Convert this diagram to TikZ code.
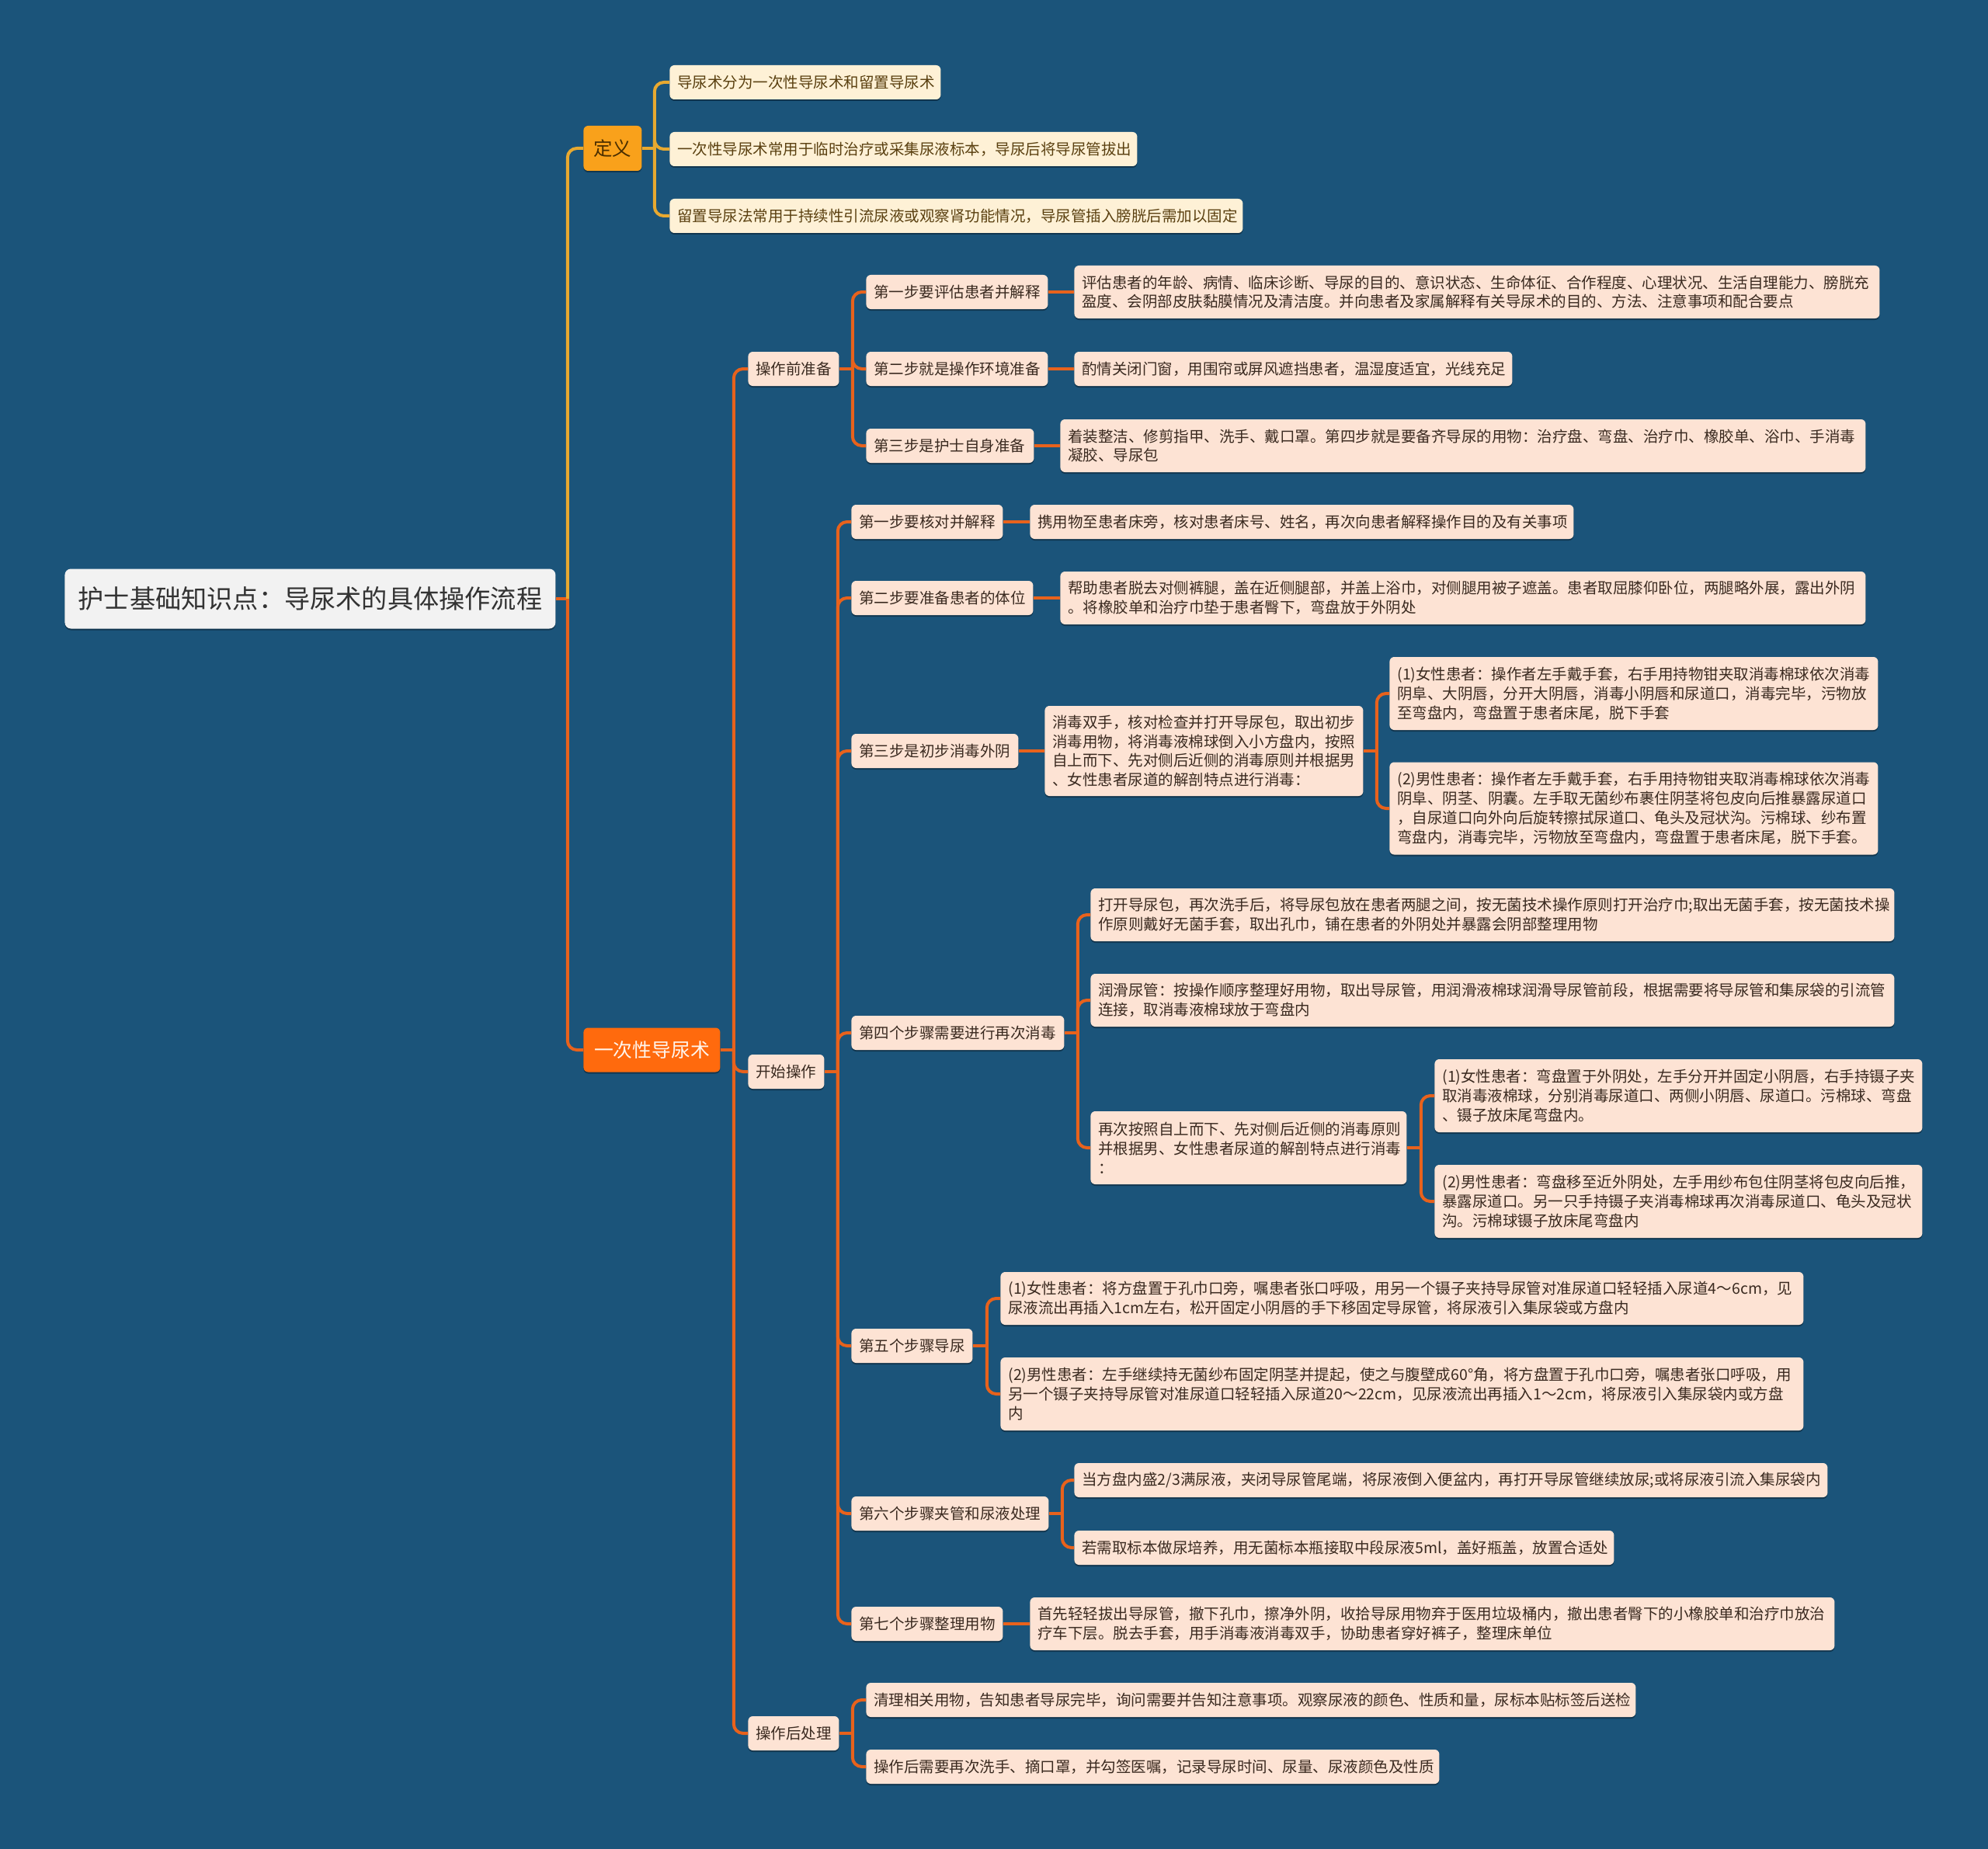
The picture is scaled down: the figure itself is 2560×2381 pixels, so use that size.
\documentclass[tikz,border=0pt]{standalone}
\usepackage{fontspec}
\setmainfont{Noto Sans CJK SC}
\usetikzlibrary{calc,shadows}
\definecolor{bg}{HTML}{1B547A}
\definecolor{peach}{HTML}{FDE3D4}
\definecolor{peachtext}{HTML}{3A2A20}
\definecolor{cream}{HTML}{FEF1D6}
\definecolor{creamtext}{HTML}{5A4010}
\definecolor{deffill}{HTML}{F9A11B}
\definecolor{deftext}{HTML}{4A2E00}
\definecolor{oncefill}{HTML}{FF6A0D}
\definecolor{oncetext}{HTML}{FFF5EC}
\definecolor{rootfill}{HTML}{F2F2F2}
\definecolor{roottext}{HTML}{333333}
\definecolor{gline}{HTML}{E8A930}
\definecolor{oline}{HTML}{E8621C}
\begin{document}
\begin{tikzpicture}[x=0.5pt,y=-0.5pt,
  bx/.style={rounded corners=3pt, inner xsep=5pt, inner ysep=0pt, anchor=west, align=left,
    font=\fontsize{9.75pt}{12.4pt}\selectfont,
    drop shadow={shadow xshift=0pt, shadow yshift=-1pt, opacity=0.35, fill=black}},
  pk/.style={bx, fill=peach, text=peachtext},
  cr/.style={bx, fill=cream, text=creamtext},
  ol/.style={draw=oline, line width=2pt, rounded corners=6pt},
  gl/.style={draw=gline, line width=2pt, rounded corners=6pt},
]
\fill[bg] (0,0) rectangle (2560,2381);
\useasboundingbox (0,0) rectangle (2560,2381);

% root and main branches
\node[bx, fill=rootfill, text=roottext, align=center, rounded corners=4pt, inner xsep=0pt,
  minimum width=316pt, minimum height=38.5pt, font=\fontsize{16.6pt}{20pt}\selectfont]
  (root) at (83,771) {护士基础知识点：导尿术的具体操作流程};
\node[bx, fill=deffill, text=deftext, align=center, inner xsep=0pt,
  minimum width=37.5pt, minimum height=29pt, font=\fontsize{12.25pt}{15pt}\selectfont]
  (def) at (751,191) {定义};
\node[bx, fill=oncefill, text=oncetext, align=center, inner xsep=0pt,
  minimum width=88pt, minimum height=28.5pt, font=\fontsize{12.4pt}{15pt}\selectfont]
  (once) at (751,1352) {一次性导尿术};

% definition children
\node[cr, text width=164.5pt, minimum height=22pt] (d1) at (862,106) {导尿术分为一次性导尿术和留置导尿术};
\node[cr, text width=291pt, minimum height=22pt] (d2) at (862,192) {一次性导尿术常用于临时治疗或采集尿液标本，导尿后将导尿管拔出};
\node[cr, text width=359pt, minimum height=22pt] (d3) at (862,278) {留置导尿法常用于持续性引流尿液或观察肾功能情况，导尿管插入膀胱后需加以固定};

% level 2
\node[pk, text width=48.5pt, minimum height=22pt] (prep) at (963,475) {操作前准备};
\node[pk, text width=39pt, minimum height=22pt] (start) at (963,1380) {开始操作};
\node[pk, text width=48.5pt, minimum height=22pt] (post) at (963,2232) {操作后处理};

% prep children
\node[pk, text width=107pt, minimum height=22pt] (p1) at (1115,376) {第一步要评估患者并解释};
\node[pk, text width=508.5pt, minimum height=34pt] (p1c) at (1383,376) {评估患者的年龄、病情、临床诊断、导尿的目的、意识状态、生命体征、合作程度、心理状况、生活自理能力、膀胱充\\盈度、会阴部皮肤黏膜情况及清洁度。并向患者及家属解释有关导尿术的目的、方法、注意事项和配合要点};
\node[pk, text width=107pt, minimum height=22pt] (p2) at (1115,475) {第二步就是操作环境准备};
\node[pk, text width=272pt, minimum height=22pt] (p2c) at (1383,475) {酌情关闭门窗，用围帘或屏风遮挡患者，温湿度适宜，光线充足};
\node[pk, text width=98pt, minimum height=22pt] (p3) at (1115,574) {第三步是护士自身准备};
\node[pk, text width=508.5pt, minimum height=34pt] (p3c) at (1365,574) {着装整洁、修剪指甲、洗手、戴口罩。第四步就是要备齐导尿的用物：治疗盘、弯盘、治疗巾、橡胶单、浴巾、手消毒\\凝胶、导尿包};

% start children
\node[pk, text width=87.5pt, minimum height=22pt] (s1) at (1096,672) {第一步要核对并解释};
\node[pk, text width=340pt, minimum height=22pt] (s1c) at (1326,672) {携用物至患者床旁，核对患者床号、姓名，再次向患者解释操作目的及有关事项};
\node[pk, text width=107pt, minimum height=22pt] (s2) at (1096,770) {第二步要准备患者的体位};
\node[pk, text width=508.5pt, minimum height=34pt] (s2c) at (1365,770) {帮助患者脱去对侧裤腿，盖在近侧腿部，并盖上浴巾，对侧腿用被子遮盖。患者取屈膝仰卧位，两腿略外展，露出外阴\\。将橡胶单和治疗巾垫于患者臀下，弯盘放于外阴处};
\node[pk, text width=97.5pt, minimum height=22pt] (s3) at (1096,967) {第三步是初步消毒外阴};
\node[pk, text width=195pt, minimum height=58pt] (s3m) at (1345,967) {消毒双手，核对检查并打开导尿包，取出初步\\消毒用物，将消毒液棉球倒入小方盘内，按照\\自上而下、先对侧后近侧的消毒原则并根据男\\、女性患者尿道的解剖特点进行消毒：};
\node[pk, text width=304.5pt, minimum height=47pt] (s3a) at (1789,893) {(1)女性患者：操作者左手戴手套，右手用持物钳夹取消毒棉球依次消毒\\阴阜、大阴唇，分开大阴唇，消毒小阴唇和尿道口，消毒完毕，污物放\\至弯盘内，弯盘置于患者床尾，脱下手套};
\node[pk, text width=304.5pt, minimum height=59.5pt] (s3b) at (1789,1041) {(2)男性患者：操作者左手戴手套，右手用持物钳夹取消毒棉球依次消毒\\阴阜、阴茎、阴囊。左手取无菌纱布裹住阴茎将包皮向后推暴露尿道口\\，自尿道口向外向后旋转擦拭尿道口、龟头及冠状沟。污棉球、纱布置\\弯盘内，消毒完毕，污物放至弯盘内，弯盘置于患者床尾，脱下手套。};
\node[pk, text width=127pt, minimum height=22pt] (s4) at (1096,1330) {第四个步骤需要进行再次消毒};
\node[pk, text width=507.5pt, minimum height=34pt] (s4a) at (1404,1178) {打开导尿包，再次洗手后，将导尿包放在患者两腿之间，按无菌技术操作原则打开治疗巾;取出无菌手套，按无菌技术操\\作原则戴好无菌手套，取出孔巾，铺在患者的外阴处并暴露会阴部整理用物};
\node[pk, text width=507.5pt, minimum height=34pt] (s4b) at (1404,1288) {润滑尿管：按操作顺序整理好用物，取出导尿管，用润滑液棉球润滑导尿管前段，根据需要将导尿管和集尿袋的引流管\\连接，取消毒液棉球放于弯盘内};
\node[pk, text width=193.5pt, minimum height=47pt] (s4c) at (1404,1478) {再次按照自上而下、先对侧后近侧的消毒原则\\并根据男、女性患者尿道的解剖特点进行消毒\\：};
\node[pk, text width=304pt, minimum height=47pt] (s4c1) at (1847,1411) {(1)女性患者：弯盘置于外阴处，左手分开并固定小阴唇，右手持镊子夹\\取消毒液棉球，分别消毒尿道口、两侧小阴唇、尿道口。污棉球、弯盘\\、镊子放床尾弯盘内。};
\node[pk, text width=304pt, minimum height=47pt] (s4c2) at (1847,1547) {(2)男性患者：弯盘移至近外阴处，左手用纱布包住阴茎将包皮向后推，\\暴露尿道口。另一只手持镊子夹消毒棉球再次消毒尿道口、龟头及冠状\\沟。污棉球镊子放床尾弯盘内};
\node[pk, text width=68pt, minimum height=22pt] (s5) at (1096,1733) {第五个步骤导尿};
\node[pk, text width=507pt, minimum height=34pt] (s5a) at (1288,1672) {(1)女性患者：将方盘置于孔巾口旁，嘱患者张口呼吸，用另一个镊子夹持导尿管对准尿道口轻轻插入尿道4～6cm，见\\尿液流出再插入1cm左右，松开固定小阴唇的手下移固定导尿管，将尿液引入集尿袋或方盘内};
\node[pk, text width=507pt, minimum height=47pt] (s5b) at (1288,1795) {(2)男性患者：左手继续持无菌纱布固定阴茎并提起，使之与腹壁成60°角，将方盘置于孔巾口旁，嘱患者张口呼吸，用\\另一个镊子夹持导尿管对准尿道口轻轻插入尿道20～22cm，见尿液流出再插入1～2cm，将尿液引入集尿袋内或方盘\\内};
\node[pk, text width=117pt, minimum height=22pt] (s6) at (1096,1949) {第六个步骤夹管和尿液处理};
\node[pk, text width=475pt, minimum height=22pt] (s6a) at (1383,1906) {当方盘内盛2/3满尿液，夹闭导尿管尾端，将尿液倒入便盆内，再打开导尿管继续放尿;或将尿液引流入集尿袋内};
\node[pk, text width=337.5pt, minimum height=22pt] (s6b) at (1383,1993) {若需取标本做尿培养，用无菌标本瓶接取中段尿液5ml，盖好瓶盖，放置合适处};
\node[pk, text width=87.5pt, minimum height=22pt] (s7) at (1096,2091) {第七个步骤整理用物};
\node[pk, text width=508pt, minimum height=34pt] (s7c) at (1326,2091) {首先轻轻拔出导尿管，撤下孔巾，擦净外阴，收拾导尿用物弃于医用垃圾桶内，撤出患者臀下的小橡胶单和治疗巾放治\\疗车下层。脱去手套，用手消毒液消毒双手，协助患者穿好裤子，整理床单位};

% post children
\node[pk, text width=485.5pt, minimum height=22pt] (q1) at (1115,2189) {清理相关用物，告知患者导尿完毕，询问需要并告知注意事项。观察尿液的颜色、性质和量，尿标本贴标签后送检};
\node[pk, text width=359pt, minimum height=22pt] (q2) at (1115,2275) {操作后需要再次洗手、摘口罩，并勾签医嘱，记录导尿时间、尿量、尿液颜色及性质};

% connectors
\draw[ol] (root.east) -- ++(15,0) coordinate (rsp);
\draw[gl] (rsp) |- (def.west);
\draw[ol] (rsp) |- (once.west);

\draw[gl] (def.east) -- ++(16,0) coordinate (dsp);
\foreach \c in {d1,d2,d3} \draw[gl] (dsp) |- (\c.west);

\draw[ol] (once.east) -- ++(17,0) coordinate (osp);
\foreach \c in {prep,start,post} \draw[ol] (osp) |- (\c.west);

\draw[ol] (prep.east) -- ++(17,0) coordinate (psp);
\foreach \c in {p1,p2,p3} \draw[ol] (psp) |- (\c.west);
\draw[ol] (p1.east) -- (p1c.west);
\draw[ol] (p2.east) -- (p2c.west);
\draw[ol] (p3.east) -- (p3c.west);

\draw[ol] (start.east) -- ++(17,0) coordinate (ssp);
\foreach \c in {s1,s2,s3,s4,s5,s6,s7} \draw[ol] (ssp) |- (\c.west);
\draw[ol] (s1.east) -- (s1c.west);
\draw[ol] (s2.east) -- (s2c.west);
\draw[ol] (s3.east) -- (s3m.west);
\draw[ol] (s3m.east) -- ++(17,0) coordinate (s3sp);
\foreach \c in {s3a,s3b} \draw[ol] (s3sp) |- (\c.west);
\draw[ol] (s4.east) -- ++(17,0) coordinate (s4sp);
\foreach \c in {s4a,s4b,s4c} \draw[ol] (s4sp) |- (\c.west);
\draw[ol] (s4c.east) -- ++(18,0) coordinate (s4csp);
\foreach \c in {s4c1,s4c2} \draw[ol] (s4csp) |- (\c.west);
\draw[ol] (s5.east) -- ++(18,0) coordinate (s5sp);
\foreach \c in {s5a,s5b} \draw[ol] (s5sp) |- (\c.west);
\draw[ol] (s6.east) -- ++(17,0) coordinate (s6sp);
\foreach \c in {s6a,s6b} \draw[ol] (s6sp) |- (\c.west);
\draw[ol] (s7.east) -- (s7c.west);

\draw[ol] (post.east) -- ++(17,0) coordinate (qsp);
\foreach \c in {q1,q2} \draw[ol] (qsp) |- (\c.west);
\end{tikzpicture}
\end{document}
